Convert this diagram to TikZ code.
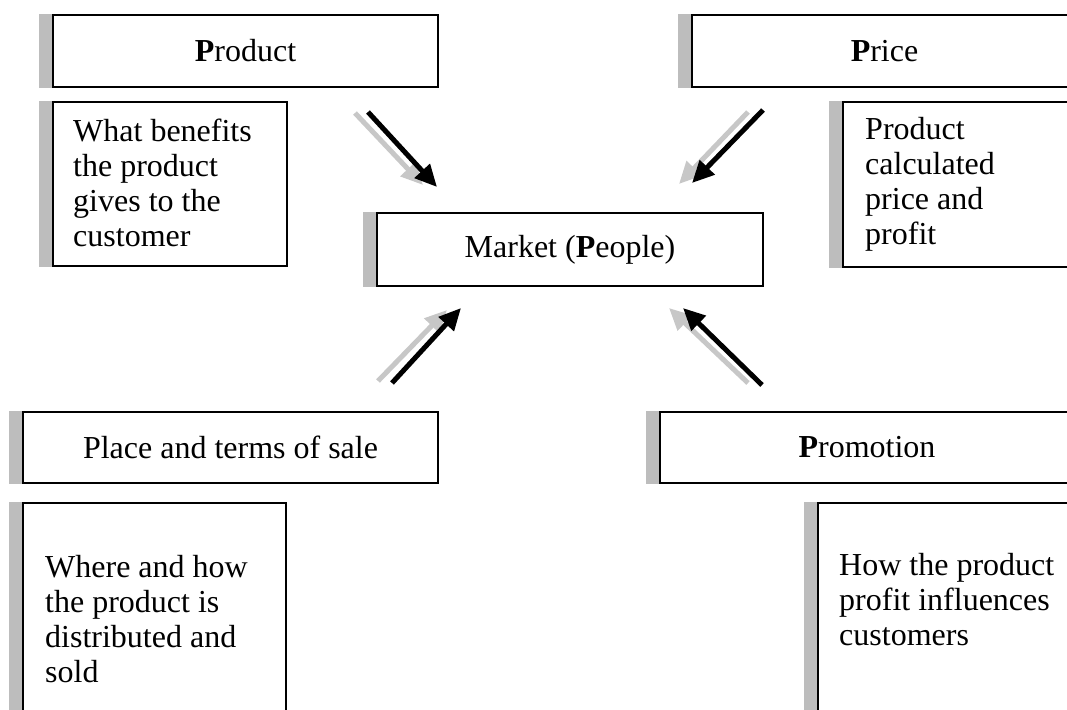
\documentclass[tikz,border=0pt]{standalone}
\usepackage{fontspec}
\setmainfont{Liberation Serif}
\usetikzlibrary{arrows.meta}
\definecolor{shadowgray}{gray}{0.74}
\definecolor{arrowshade}{gray}{0.78}
\begin{document}
\begin{tikzpicture}[x=1pt,y=-1pt,
  box/.style={draw, line width=1.5pt, fill=white, inner sep=0pt, font=\fontsize{32}{35}\selectfont},
  txt/.style={anchor=north west, inner sep=0pt, align=left, font=\fontsize{32}{35}\selectfont},
  arr/.style={line width=5pt, -{Triangle[length=22pt,width=20pt]}},
  ]
\useasboundingbox (0,0) rectangle (1067,709);
\clip (0,0) rectangle (1067,709);

% title boxes
\node[box, minimum width=385pt, minimum height=72pt] (prod) at (245.5,51) {\textbf{P}roduct};
\node[box, minimum width=385pt, minimum height=72pt] (price) at (884.5,51) {\textbf{P}rice};
\node[box, minimum width=386pt, minimum height=73pt] (market) at (570,249.5) {Market (\textbf{P}eople)};
\node[box, minimum width=415pt, minimum height=71pt] (place) at (230.5,447.5) {Place and terms of sale};
\node[box, minimum width=414pt, minimum height=71pt] (promo) at (867,447.5) {\textbf{P}romotion};

% description boxes
\node[box, minimum width=234pt, minimum height=164pt] (benbox) at (170,184) {};
\node[box, minimum width=250pt, minimum height=165pt] (pricebox) at (968,184.5) {};
\node[box, minimum width=263pt, minimum height=230pt] (wherebox) at (154.5,618) {};
\node[box, minimum width=270pt, minimum height=230pt] (howbox) at (953,618) {};

% left-side shadows
\foreach \n in {prod,price,market,place,promo,benbox,pricebox,wherebox,howbox}
  \fill[shadowgray] ([xshift=-13.75pt]\n.south west) rectangle ([xshift=-0.75pt]\n.north west);

% description texts
\node[txt] (bentxt) at (73,118.5) {What benefits\\the product\\gives to the\\customer};
\node[txt] (pricetxt) at (865,117.5) {Product\\calculated\\price and\\profit};
\node[txt] (wheretxt) at (45,555.5) {Where and how\\the product is\\distributed and\\sold};
\node[txt] (howtxt) at (839,553.5) {How the product\\profit influences\\customers};

% arrow end points
\coordinate (g1s) at (355,113); \coordinate (g1e) at (423,185);
\coordinate (b1s) at (368,112); \coordinate (b1e) at (437,187);
\coordinate (g2s) at (748,112); \coordinate (g2e) at (679,184);
\coordinate (b2s) at (763,110); \coordinate (b2e) at (692,183);
\coordinate (g3s) at (378,381); \coordinate (g3e) at (447,310);
\coordinate (b3s) at (392,383); \coordinate (b3e) at (461,308);
\coordinate (g4s) at (748,383); \coordinate (g4e) at (669,308);
\coordinate (b4s) at (762,385); \coordinate (b4e) at (683,308);

\draw[arr, arrowshade] (g1s) -- (g1e);
\draw[arr, arrowshade] (g2s) -- (g2e);
\draw[arr, arrowshade] (g3s) -- (g3e);
\draw[arr, arrowshade] (g4s) -- (g4e);
\draw[arr, black] (b1s) -- (b1e);
\draw[arr, black] (b2s) -- (b2e);
\draw[arr, black] (b3s) -- (b3e);
\draw[arr, black] (b4s) -- (b4e);
\end{tikzpicture}
\end{document}
